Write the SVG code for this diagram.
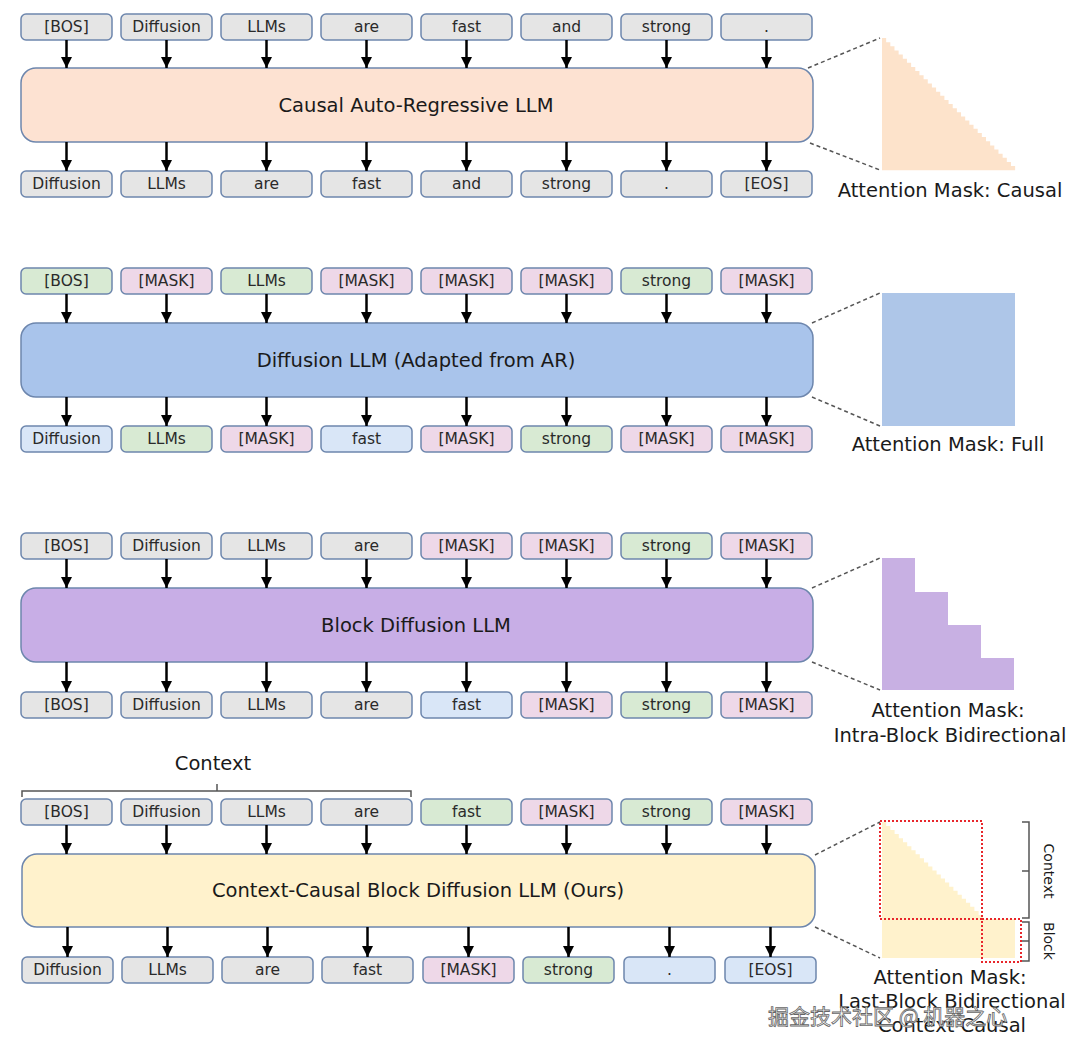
<svg xmlns="http://www.w3.org/2000/svg" width="1080" height="1055" viewBox="0 0 1080 1055">
<defs>
<marker id="ah" markerUnits="userSpaceOnUse" markerWidth="12" markerHeight="11" refX="11" refY="5.5" orient="auto"><path d="M0,0 L11,5.5 L0,11 Z" fill="#000"/></marker>
<style>
.tok rect{stroke:#6d86ad;stroke-width:1.5}
.tok text{font-family:"DejaVu Sans",sans-serif;font-size:15.5px;fill:#2a2a2a;text-anchor:middle;dominant-baseline:central}
.gray rect{fill:#e5e5e5}
.green rect{fill:#d8ead3}
.pink rect{fill:#eed8e8}
.blue rect{fill:#d9e6f7}
.big rect{stroke:#6d86ad;stroke-width:1.5}
.big text{font-family:"DejaVu Sans",sans-serif;font-size:19.5px;fill:#1a1a1a;text-anchor:middle;dominant-baseline:central}
.arr{stroke:#000;stroke-width:2.5;fill:none;marker-end:url(#ah)}
.dash{stroke:#555;stroke-width:1.5;stroke-dasharray:4 3;fill:none}
.lbl{font-family:"DejaVu Sans",sans-serif;font-size:19.5px;fill:#1a1a1a;text-anchor:middle}
.red{fill:none;stroke:#e8262b;stroke-width:2;stroke-dasharray:2 2}
.brk{fill:none;stroke:#555;stroke-width:1.5}
</style>
</defs>
<rect width="1080" height="1055" fill="#fff"/>

<!-- Section 1 -->
<g id="s1-in-0" class="tok gray"><rect x="21" y="14" width="91" height="26" rx="5"/><text x="66.5" y="27">[BOS]</text></g>
<g id="s1-in-1" class="tok gray"><rect x="121" y="14" width="91" height="26" rx="5"/><text x="166.5" y="27">Diffusion</text></g>
<g id="s1-in-2" class="tok gray"><rect x="221" y="14" width="91" height="26" rx="5"/><text x="266.5" y="27">LLMs</text></g>
<g id="s1-in-3" class="tok gray"><rect x="321" y="14" width="91" height="26" rx="5"/><text x="366.5" y="27">are</text></g>
<g id="s1-in-4" class="tok gray"><rect x="421" y="14" width="91" height="26" rx="5"/><text x="466.5" y="27">fast</text></g>
<g id="s1-in-5" class="tok gray"><rect x="521" y="14" width="91" height="26" rx="5"/><text x="566.5" y="27">and</text></g>
<g id="s1-in-6" class="tok gray"><rect x="621" y="14" width="91" height="26" rx="5"/><text x="666.5" y="27">strong</text></g>
<g id="s1-in-7" class="tok gray"><rect x="721" y="14" width="91" height="26" rx="5"/><text x="766.5" y="27">.</text></g>
<g id="s1-model" class="big"><rect x="21" y="68" width="792" height="74" rx="15" fill="#fde2d2"/><text x="416" y="105">Causal Auto-Regressive LLM</text></g>
<g id="s1-out-0" class="tok gray"><rect x="21" y="171" width="91" height="26" rx="5"/><text x="66.5" y="184">Diffusion</text></g>
<g id="s1-out-1" class="tok gray"><rect x="121" y="171" width="91" height="26" rx="5"/><text x="166.5" y="184">LLMs</text></g>
<g id="s1-out-2" class="tok gray"><rect x="221" y="171" width="91" height="26" rx="5"/><text x="266.5" y="184">are</text></g>
<g id="s1-out-3" class="tok gray"><rect x="321" y="171" width="91" height="26" rx="5"/><text x="366.5" y="184">fast</text></g>
<g id="s1-out-4" class="tok gray"><rect x="421" y="171" width="91" height="26" rx="5"/><text x="466.5" y="184">and</text></g>
<g id="s1-out-5" class="tok gray"><rect x="521" y="171" width="91" height="26" rx="5"/><text x="566.5" y="184">strong</text></g>
<g id="s1-out-6" class="tok gray"><rect x="621" y="171" width="91" height="26" rx="5"/><text x="666.5" y="184">.</text></g>
<g id="s1-out-7" class="tok gray"><rect x="721" y="171" width="91" height="26" rx="5"/><text x="766.5" y="184">[EOS]</text></g>
<g id="s1-mask">
<path d="M882 38 h4.16v4.13h4.16v4.13h4.16v4.13h4.16v4.13h4.16v4.13h4.16v4.13h4.16v4.13h4.16v4.13h4.16v4.13h4.16v4.13h4.16v4.13h4.16v4.13h4.16v4.13h4.16v4.13h4.16v4.13h4.16v4.13h4.16v4.13h4.16v4.13h4.16v4.13h4.16v4.13h4.16v4.13h4.16v4.13h4.16v4.13h4.16v4.13h4.16v4.13h4.16v4.13h4.16v4.13h4.16v4.13h4.16v4.13h4.16v4.13h4.16v4.13h4.16v4.13 H882 Z" fill="#fde3cb"/>
<text class="lbl" x="950" y="197">Attention Mask: Causal</text>
</g>

<!-- Section 2 -->
<g id="s2-in-0" class="tok green"><rect x="21" y="268" width="91" height="26" rx="5"/><text x="66.5" y="281">[BOS]</text></g>
<g id="s2-in-1" class="tok pink"><rect x="121" y="268" width="91" height="26" rx="5"/><text x="166.5" y="281">[MASK]</text></g>
<g id="s2-in-2" class="tok green"><rect x="221" y="268" width="91" height="26" rx="5"/><text x="266.5" y="281">LLMs</text></g>
<g id="s2-in-3" class="tok pink"><rect x="321" y="268" width="91" height="26" rx="5"/><text x="366.5" y="281">[MASK]</text></g>
<g id="s2-in-4" class="tok pink"><rect x="421" y="268" width="91" height="26" rx="5"/><text x="466.5" y="281">[MASK]</text></g>
<g id="s2-in-5" class="tok pink"><rect x="521" y="268" width="91" height="26" rx="5"/><text x="566.5" y="281">[MASK]</text></g>
<g id="s2-in-6" class="tok green"><rect x="621" y="268" width="91" height="26" rx="5"/><text x="666.5" y="281">strong</text></g>
<g id="s2-in-7" class="tok pink"><rect x="721" y="268" width="91" height="26" rx="5"/><text x="766.5" y="281">[MASK]</text></g>
<g id="s2-model" class="big"><rect x="21" y="323" width="792" height="74" rx="15" fill="#a9c4eb"/><text x="416" y="360">Diffusion LLM (Adapted from AR)</text></g>
<g id="s2-out-0" class="tok blue"><rect x="21" y="426" width="91" height="26" rx="5"/><text x="66.5" y="439">Diffusion</text></g>
<g id="s2-out-1" class="tok green"><rect x="121" y="426" width="91" height="26" rx="5"/><text x="166.5" y="439">LLMs</text></g>
<g id="s2-out-2" class="tok pink"><rect x="221" y="426" width="91" height="26" rx="5"/><text x="266.5" y="439">[MASK]</text></g>
<g id="s2-out-3" class="tok blue"><rect x="321" y="426" width="91" height="26" rx="5"/><text x="366.5" y="439">fast</text></g>
<g id="s2-out-4" class="tok pink"><rect x="421" y="426" width="91" height="26" rx="5"/><text x="466.5" y="439">[MASK]</text></g>
<g id="s2-out-5" class="tok green"><rect x="521" y="426" width="91" height="26" rx="5"/><text x="566.5" y="439">strong</text></g>
<g id="s2-out-6" class="tok pink"><rect x="621" y="426" width="91" height="26" rx="5"/><text x="666.5" y="439">[MASK]</text></g>
<g id="s2-out-7" class="tok pink"><rect x="721" y="426" width="91" height="26" rx="5"/><text x="766.5" y="439">[MASK]</text></g>
<g id="s2-mask">
<rect x="882" y="293" width="133" height="133" fill="#aec6e8"/>
<text class="lbl" x="948" y="451">Attention Mask: Full</text>
</g>

<!-- Section 3 -->
<g id="s3-in-0" class="tok gray"><rect x="21" y="533" width="91" height="26" rx="5"/><text x="66.5" y="546">[BOS]</text></g>
<g id="s3-in-1" class="tok gray"><rect x="121" y="533" width="91" height="26" rx="5"/><text x="166.5" y="546">Diffusion</text></g>
<g id="s3-in-2" class="tok gray"><rect x="221" y="533" width="91" height="26" rx="5"/><text x="266.5" y="546">LLMs</text></g>
<g id="s3-in-3" class="tok gray"><rect x="321" y="533" width="91" height="26" rx="5"/><text x="366.5" y="546">are</text></g>
<g id="s3-in-4" class="tok pink"><rect x="421" y="533" width="91" height="26" rx="5"/><text x="466.5" y="546">[MASK]</text></g>
<g id="s3-in-5" class="tok pink"><rect x="521" y="533" width="91" height="26" rx="5"/><text x="566.5" y="546">[MASK]</text></g>
<g id="s3-in-6" class="tok green"><rect x="621" y="533" width="91" height="26" rx="5"/><text x="666.5" y="546">strong</text></g>
<g id="s3-in-7" class="tok pink"><rect x="721" y="533" width="91" height="26" rx="5"/><text x="766.5" y="546">[MASK]</text></g>
<g id="s3-model" class="big"><rect x="21" y="588" width="792" height="74" rx="15" fill="#c8aee6"/><text x="416" y="625">Block Diffusion LLM</text></g>
<g id="s3-out-0" class="tok gray"><rect x="21" y="692" width="91" height="26" rx="5"/><text x="66.5" y="705">[BOS]</text></g>
<g id="s3-out-1" class="tok gray"><rect x="121" y="692" width="91" height="26" rx="5"/><text x="166.5" y="705">Diffusion</text></g>
<g id="s3-out-2" class="tok gray"><rect x="221" y="692" width="91" height="26" rx="5"/><text x="266.5" y="705">LLMs</text></g>
<g id="s3-out-3" class="tok gray"><rect x="321" y="692" width="91" height="26" rx="5"/><text x="366.5" y="705">are</text></g>
<g id="s3-out-4" class="tok blue"><rect x="421" y="692" width="91" height="26" rx="5"/><text x="466.5" y="705">fast</text></g>
<g id="s3-out-5" class="tok pink"><rect x="521" y="692" width="91" height="26" rx="5"/><text x="566.5" y="705">[MASK]</text></g>
<g id="s3-out-6" class="tok green"><rect x="621" y="692" width="91" height="26" rx="5"/><text x="666.5" y="705">strong</text></g>
<g id="s3-out-7" class="tok pink"><rect x="721" y="692" width="91" height="26" rx="5"/><text x="766.5" y="705">[MASK]</text></g>
<g id="s3-mask">
<path d="M882 558 H915 V592 H948 V625 H981 V658 H1014 V690 H882 Z" fill="#c8b0e3"/>
<text class="lbl" x="948" y="717">Attention Mask:</text>
<text class="lbl" x="950" y="742">Intra-Block Bidirectional</text>
</g>

<!-- Section 4 -->
<g id="s4-context">
<path class="brk" d="M22 797 V791 H411 V797 M217 791 V784"/>
<text class="lbl" x="213" y="770">Context</text>
</g>
<g id="s4-in-0" class="tok gray"><rect x="21" y="799" width="91" height="26" rx="5"/><text x="66.5" y="812">[BOS]</text></g>
<g id="s4-in-1" class="tok gray"><rect x="121" y="799" width="91" height="26" rx="5"/><text x="166.5" y="812">Diffusion</text></g>
<g id="s4-in-2" class="tok gray"><rect x="221" y="799" width="91" height="26" rx="5"/><text x="266.5" y="812">LLMs</text></g>
<g id="s4-in-3" class="tok gray"><rect x="321" y="799" width="91" height="26" rx="5"/><text x="366.5" y="812">are</text></g>
<g id="s4-in-4" class="tok green"><rect x="421" y="799" width="91" height="26" rx="5"/><text x="466.5" y="812">fast</text></g>
<g id="s4-in-5" class="tok pink"><rect x="521" y="799" width="91" height="26" rx="5"/><text x="566.5" y="812">[MASK]</text></g>
<g id="s4-in-6" class="tok green"><rect x="621" y="799" width="91" height="26" rx="5"/><text x="666.5" y="812">strong</text></g>
<g id="s4-in-7" class="tok pink"><rect x="721" y="799" width="91" height="26" rx="5"/><text x="766.5" y="812">[MASK]</text></g>
<g id="s4-model" class="big"><rect x="22" y="854" width="793" height="73" rx="15" fill="#fff2cc"/><text x="418" y="890">Context-Causal Block Diffusion LLM (Ours)</text></g>
<g id="s4-out-0" class="tok gray"><rect x="22" y="957" width="91" height="26" rx="5"/><text x="67.5" y="970">Diffusion</text></g>
<g id="s4-out-1" class="tok gray"><rect x="122" y="957" width="91" height="26" rx="5"/><text x="167.5" y="970">LLMs</text></g>
<g id="s4-out-2" class="tok gray"><rect x="222" y="957" width="91" height="26" rx="5"/><text x="267.5" y="970">are</text></g>
<g id="s4-out-3" class="tok gray"><rect x="322" y="957" width="91" height="26" rx="5"/><text x="367.5" y="970">fast</text></g>
<g id="s4-out-4" class="tok pink"><rect x="423" y="957" width="91" height="26" rx="5"/><text x="468.5" y="970">[MASK]</text></g>
<g id="s4-out-5" class="tok green"><rect x="523" y="957" width="91" height="26" rx="5"/><text x="568.5" y="970">strong</text></g>
<g id="s4-out-6" class="tok blue"><rect x="624" y="957" width="91" height="26" rx="5"/><text x="669.5" y="970">.</text></g>
<g id="s4-out-7" class="tok blue"><rect x="725" y="957" width="91" height="26" rx="5"/><text x="770.5" y="970">[EOS]</text></g>
<g id="s4-mask">
<path d="M882 822 h4.2v4.04h4.2v4.04h4.2v4.04h4.2v4.04h4.2v4.04h4.2v4.04h4.2v4.04h4.2v4.04h4.2v4.04h4.2v4.04h4.2v4.04h4.2v4.04h4.2v4.04h4.2v4.04h4.2v4.04h4.2v4.04h4.2v4.04h4.2v4.04h4.2v4.04h4.2v4.04h4.2v4.04h4.2v4.04h4.2v4.04h4.2v4.04 H882 Z" fill="#fff2cc"/>
<rect x="882" y="919" width="133" height="39" fill="#fff2cc"/>
<rect class="red" x="880" y="821" width="102" height="98"/>
<rect class="red" x="982" y="919" width="39" height="43"/>
<path class="brk" d="M1022 822 H1029 V918 H1022 M1029 871 H1022 M1022 922 H1029 V961 H1022 M1029 941 H1022"/>
<text class="lbl" style="font-size:14px" transform="translate(1044 871) rotate(90)" text-anchor="middle">Context</text>
<text class="lbl" style="font-size:14px" transform="translate(1044 941) rotate(90)" text-anchor="middle">Block</text>
<text class="lbl" x="950" y="984">Attention Mask:</text>
<text class="lbl" x="952" y="1008">Last-Block Bidirectional</text>
<text class="lbl" x="952" y="1032">Context Causal</text>
</g>

<!-- Connectors -->
<g id="connectors">
<path class="dash" d="M808 68 L880 38 M810 143 L880 170 M812 323 L880 293 M812 397 L880 426 M812 588 L880 558 M812 662 L880 690 M815 855 L880 822 M815 927 L880 958"/>
<line class="arr" x1="66.5" y1="40" x2="66.5" y2="68"/><line class="arr" x1="166.5" y1="40" x2="166.5" y2="68"/><line class="arr" x1="266.5" y1="40" x2="266.5" y2="68"/><line class="arr" x1="366.5" y1="40" x2="366.5" y2="68"/><line class="arr" x1="466.5" y1="40" x2="466.5" y2="68"/><line class="arr" x1="566.5" y1="40" x2="566.5" y2="68"/><line class="arr" x1="666.5" y1="40" x2="666.5" y2="68"/><line class="arr" x1="766.5" y1="40" x2="766.5" y2="68"/>
<line class="arr" x1="66.5" y1="142" x2="66.5" y2="171"/><line class="arr" x1="166.5" y1="142" x2="166.5" y2="171"/><line class="arr" x1="266.5" y1="142" x2="266.5" y2="171"/><line class="arr" x1="366.5" y1="142" x2="366.5" y2="171"/><line class="arr" x1="466.5" y1="142" x2="466.5" y2="171"/><line class="arr" x1="566.5" y1="142" x2="566.5" y2="171"/><line class="arr" x1="666.5" y1="142" x2="666.5" y2="171"/><line class="arr" x1="766.5" y1="142" x2="766.5" y2="171"/>
<line class="arr" x1="66.5" y1="294" x2="66.5" y2="323"/><line class="arr" x1="166.5" y1="294" x2="166.5" y2="323"/><line class="arr" x1="266.5" y1="294" x2="266.5" y2="323"/><line class="arr" x1="366.5" y1="294" x2="366.5" y2="323"/><line class="arr" x1="466.5" y1="294" x2="466.5" y2="323"/><line class="arr" x1="566.5" y1="294" x2="566.5" y2="323"/><line class="arr" x1="666.5" y1="294" x2="666.5" y2="323"/><line class="arr" x1="766.5" y1="294" x2="766.5" y2="323"/>
<line class="arr" x1="66.5" y1="397" x2="66.5" y2="426"/><line class="arr" x1="166.5" y1="397" x2="166.5" y2="426"/><line class="arr" x1="266.5" y1="397" x2="266.5" y2="426"/><line class="arr" x1="366.5" y1="397" x2="366.5" y2="426"/><line class="arr" x1="466.5" y1="397" x2="466.5" y2="426"/><line class="arr" x1="566.5" y1="397" x2="566.5" y2="426"/><line class="arr" x1="666.5" y1="397" x2="666.5" y2="426"/><line class="arr" x1="766.5" y1="397" x2="766.5" y2="426"/>
<line class="arr" x1="66.5" y1="559" x2="66.5" y2="588"/><line class="arr" x1="166.5" y1="559" x2="166.5" y2="588"/><line class="arr" x1="266.5" y1="559" x2="266.5" y2="588"/><line class="arr" x1="366.5" y1="559" x2="366.5" y2="588"/><line class="arr" x1="466.5" y1="559" x2="466.5" y2="588"/><line class="arr" x1="566.5" y1="559" x2="566.5" y2="588"/><line class="arr" x1="666.5" y1="559" x2="666.5" y2="588"/><line class="arr" x1="766.5" y1="559" x2="766.5" y2="588"/>
<line class="arr" x1="66.5" y1="662" x2="66.5" y2="692"/><line class="arr" x1="166.5" y1="662" x2="166.5" y2="692"/><line class="arr" x1="266.5" y1="662" x2="266.5" y2="692"/><line class="arr" x1="366.5" y1="662" x2="366.5" y2="692"/><line class="arr" x1="466.5" y1="662" x2="466.5" y2="692"/><line class="arr" x1="566.5" y1="662" x2="566.5" y2="692"/><line class="arr" x1="666.5" y1="662" x2="666.5" y2="692"/><line class="arr" x1="766.5" y1="662" x2="766.5" y2="692"/>
<line class="arr" x1="66.5" y1="825" x2="66.5" y2="854"/><line class="arr" x1="166.5" y1="825" x2="166.5" y2="854"/><line class="arr" x1="266.5" y1="825" x2="266.5" y2="854"/><line class="arr" x1="366.5" y1="825" x2="366.5" y2="854"/><line class="arr" x1="466.5" y1="825" x2="466.5" y2="854"/><line class="arr" x1="566.5" y1="825" x2="566.5" y2="854"/><line class="arr" x1="666.5" y1="825" x2="666.5" y2="854"/><line class="arr" x1="766.5" y1="825" x2="766.5" y2="854"/>
<line class="arr" x1="67.5" y1="927" x2="67.5" y2="957"/><line class="arr" x1="167.5" y1="927" x2="167.5" y2="957"/><line class="arr" x1="267.5" y1="927" x2="267.5" y2="957"/><line class="arr" x1="367.5" y1="927" x2="367.5" y2="957"/><line class="arr" x1="468.5" y1="927" x2="468.5" y2="957"/><line class="arr" x1="568.5" y1="927" x2="568.5" y2="957"/><line class="arr" x1="669.5" y1="927" x2="669.5" y2="957"/><line class="arr" x1="770.5" y1="927" x2="770.5" y2="957"/>
</g>

<text x="768" y="1024" font-family="'Noto Sans CJK SC',sans-serif" font-size="21" fill="#fff" fill-opacity="0.85" stroke="#666" stroke-width="0.8">掘金技术社区 @ 机器之心</text>
</svg>
